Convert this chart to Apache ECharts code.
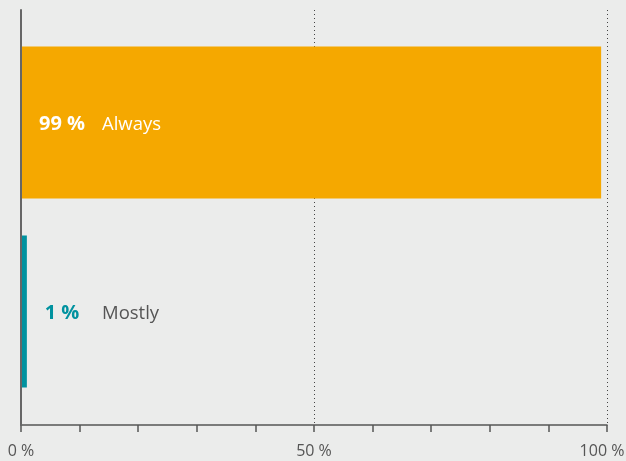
<!DOCTYPE html>
<html>
<head>
<meta charset="utf-8">
<script src="https://cdn.jsdelivr.net/npm/echarts@6/dist/echarts.min.js"></script>
<style>
  html, body { margin: 0; padding: 0; background: #ebeceb; }
  #chart { width: 626px; height: 461px; }
</style>
</head>
<body>
<div id="chart"></div>
<script>
// Answer categories (bottom to top) and their shares in percent
const categories = ['Mostly', 'Always'];
const shares = [1, 99];
const barColors = ['#00929f', '#f5a800'];
const valueColors = ['#00929f', '#ffffff'];
const nameColors = ['#555555', '#ffffff'];
const tickLabels = { 0: '0 %', 50: '50 %', 100: '100 %' };

const font = '"Open Sans", "Noto Sans", sans-serif';

const chart = echarts.init(document.getElementById('chart'), null, { renderer: 'canvas' });

const gridBase = { left: 21, right: 19, containLabel: false, outerBoundsMode: 'none' };

const option = {
  backgroundColor: '#ebeceb',
  animation: false,
  grid: [
    // frame: axes, ticks and dotted guides
    Object.assign({ top: 10, bottom: 36 }, gridBase),
    // bars
    Object.assign({ top: 28, bottom: 55 }, gridBase)
  ],
  xAxis: [
    {
      gridIndex: 0, type: 'value', min: 0, max: 100, interval: 10,
      axisLine: { show: true, lineStyle: { color: '#555', width: 1.5 } },
      axisTick: { show: true, length: 7, lineStyle: { color: '#555', width: 1.5 } },
      axisLabel: {
        margin: 18, color: '#555', fontFamily: font, fontSize: 16,
        // the last label is nudged left so it stays inside the canvas
        formatter: v => v === 100 ? '{end|' + tickLabels[v] + '}' : (tickLabels[v] || ''),
        rich: { end: { color: '#555', fontFamily: font, fontSize: 16, padding: [0, 10, 0, 0] } }
      },
      splitLine: { show: false }
    },
    { gridIndex: 1, type: 'value', min: 0, max: 100, show: false, splitLine: { show: false } },
    {
      // dotted guides at 50 % and 100 %
      gridIndex: 0, type: 'value', min: 0, max: 100, interval: 50,
      axisLine: { show: false }, axisTick: { show: false }, axisLabel: { show: false },
      splitLine: { show: true, showMinLine: false, lineStyle: { color: '#444', type: [1, 3], width: 1 } }
    }
  ],
  yAxis: [
    {
      gridIndex: 0, type: 'category', data: categories, z: 5,
      axisLine: { show: true, lineStyle: { color: '#666', width: 2 } },
      axisTick: { show: false }, axisLabel: { show: false }, splitLine: { show: false }
    },
    {
      gridIndex: 1, type: 'category', data: categories, show: false
    }
  ],
  series: [{
    type: 'bar',
    xAxisIndex: 1,
    yAxisIndex: 1,
    barWidth: 152,
    data: shares.map((v, i) => ({
      value: v,
      itemStyle: { color: barColors[i] },
      label: {
        rich: {
          v: { color: valueColors[i], fontFamily: font, fontWeight: 'bold', fontSize: 20, width: 48, align: 'center' },
          n: { color: nameColors[i], fontFamily: font, fontSize: 18.5, padding: [0, 0, 0, 16] }
        }
      }
    })),
    label: {
      show: true,
      position: [17, '50%'],
      offset: [0, 2],
      verticalAlign: 'middle',
      formatter: p => '{v|' + p.value + ' %}{n|' + categories[p.dataIndex] + '}'
    }
  }]
};

chart.setOption(option);
</script>
</body>
</html>
